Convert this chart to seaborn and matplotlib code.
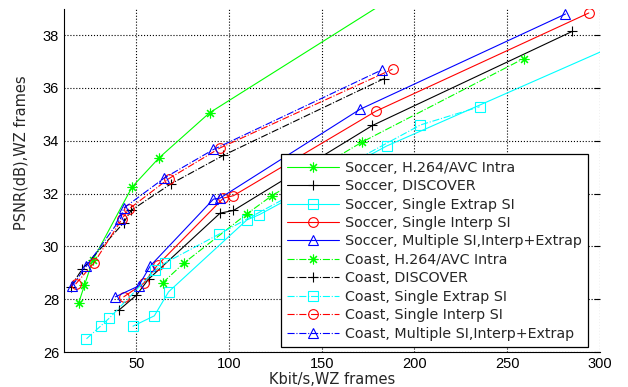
import matplotlib
matplotlib.use('Agg')
import matplotlib.pyplot as plt
import seaborn as sns

# Soccer sequence (solid lines)
soccer_h264_x = [18.9, 22.0, 26.5, 47.7, 62.2, 89.5, 190]
soccer_h264_y = [27.86, 28.53, 29.48, 32.25, 33.35, 35.06, 39.5]
soccer_discover_x = [40.5, 50, 56.6, 95.2, 102.4, 177.4, 285.1]
soccer_discover_y = [27.58, 28.15, 28.76, 31.26, 31.36, 34.58, 38.14]
soccer_extrap_x = [48.2, 59.7, 67.4, 109.6, 116.3, 185, 330]
soccer_extrap_y = [26.98, 27.37, 28.28, 31.0, 31.2, 33.8, 38.28]
soccer_interp_x = [43.2, 53.9, 61.5, 97, 102.4, 179.2, 294.1]
soccer_interp_y = [28.09, 28.6, 29.3, 31.83, 31.92, 35.12, 38.84]
soccer_multi_x = [38.7, 51.2, 57.5, 91.6, 95.2, 170.6, 281.5]
soccer_multi_y = [28.09, 28.5, 29.26, 31.79, 31.83, 35.19, 38.8]

# Coast sequence (dash-dot lines)
coast_h264_x = [64.2, 75.5, 109.6, 123.1, 172, 258.9]
coast_h264_y = [28.62, 29.36, 31.23, 31.92, 33.96, 37.11]
coast_discover_x = [14.5, 20.7, 43.2, 47.1, 68.7, 97, 183.5]
coast_discover_y = [28.47, 29.13, 30.9, 31.36, 32.37, 33.45, 36.35]
coast_extrap_x = [23.1, 31, 35.5, 60.2, 65.2, 94.8, 203.3, 235.2]
coast_extrap_y = [26.5, 27.0, 27.29, 29.1, 29.36, 30.47, 34.6, 35.29]
coast_interp_x = [17.2, 27, 42.3, 45.9, 67.4, 95.2, 188.2]
coast_interp_y = [28.57, 29.36, 31.04, 31.41, 32.56, 33.73, 36.71]
coast_multi_x = [15.3, 23.1, 41.4, 43.2, 65.1, 91.6, 182.3]
coast_multi_y = [28.5, 29.26, 31.04, 31.45, 32.59, 33.67, 36.68]

x_ticks = [50, 100, 150, 200, 250, 300]
y_ticks = [26, 28, 30, 32, 34, 36, 38]

sns.set_style('white')
plt.rcParams['font.family'] = ['DejaVu Sans']

fig = plt.figure(figsize=(6.28, 3.87), dpi=100)
ax = fig.add_axes([0.102, 0.0904, 0.853, 0.887])

star = (8, 2, 0)  # matlab-like asterisk
series = [
    (soccer_h264_x, soccer_h264_y, 'Soccer, H.264/AVC Intra', '#00ff00', star, '-'),
    (soccer_discover_x, soccer_discover_y, 'Soccer, DISCOVER', 'black', '+', '-'),
    (soccer_extrap_x, soccer_extrap_y, 'Soccer, Single Extrap SI', '#00ffff', 's', '-'),
    (soccer_interp_x, soccer_interp_y, 'Soccer, Single Interp SI', 'red', 'o', '-'),
    (soccer_multi_x, soccer_multi_y, 'Soccer, Multiple SI,Interp+Extrap', 'blue', '^', '-'),
    (coast_h264_x, coast_h264_y, 'Coast, H.264/AVC Intra', '#00ff00', star, '-.'),
    (coast_discover_x, coast_discover_y, 'Coast, DISCOVER', 'black', '+', '-.'),
    (coast_extrap_x, coast_extrap_y, 'Coast, Single Extrap SI', '#00ffff', 's', '-.'),
    (coast_interp_x, coast_interp_y, 'Coast, Single Interp SI', 'red', 'o', '-.'),
    (coast_multi_x, coast_multi_y, 'Coast, Multiple SI,Interp+Extrap', 'blue', '^', '-.'),
]

for xs, ys, lab, col, mk, ls in series:
    sns.lineplot(x=xs, y=ys, ax=ax, sort=False, estimator=None, color=col,
                 marker=mk, linestyle=ls, linewidth=0.8, markersize=7,
                 markeredgecolor=col, markerfacecolor='none',
                 markeredgewidth=0.8, label=lab)

ax.set_xlim(11, 300)
ax.set_ylim(26, 39)
ax.set_xticks(x_ticks)
ax.set_yticks(y_ticks)
ax.grid(True, linestyle=':', color='black', linewidth=0.8)
ax.set_axisbelow(True)
ax.spines['top'].set_visible(False)
ax.spines['right'].set_visible(False)
for s in ['left', 'bottom']:
    ax.spines[s].set_color('black')
    ax.spines[s].set_linewidth(0.8)
ax.tick_params(direction='in', length=4, width=0.8, colors='black', right=True)
for lbl in ax.get_xticklabels() + ax.get_yticklabels():
    lbl.set_fontfamily('Liberation Sans')
    lbl.set_fontsize(10.5)

ax.set_xlabel('Kbit/s,WZ frames', fontsize=10.5, va='baseline')
ax.xaxis.set_label_coords(0.5, -0.094)
ax.set_ylabel('PSNR(dB),WZ frames', fontsize=10.5, va='bottom')
ax.yaxis.set_label_coords(-0.067, 0.58)

leg = ax.legend(loc='lower right', bbox_to_anchor=(0.978, 0.0146),
                frameon=True, fancybox=False, edgecolor='black', framealpha=1,
                handlelength=3.6, fontsize=10.3, labelspacing=0.31,
                borderpad=0.45, handletextpad=0.4, borderaxespad=0)
leg.get_frame().set_linewidth(0.9)

plt.savefig('out.png', dpi=100)
